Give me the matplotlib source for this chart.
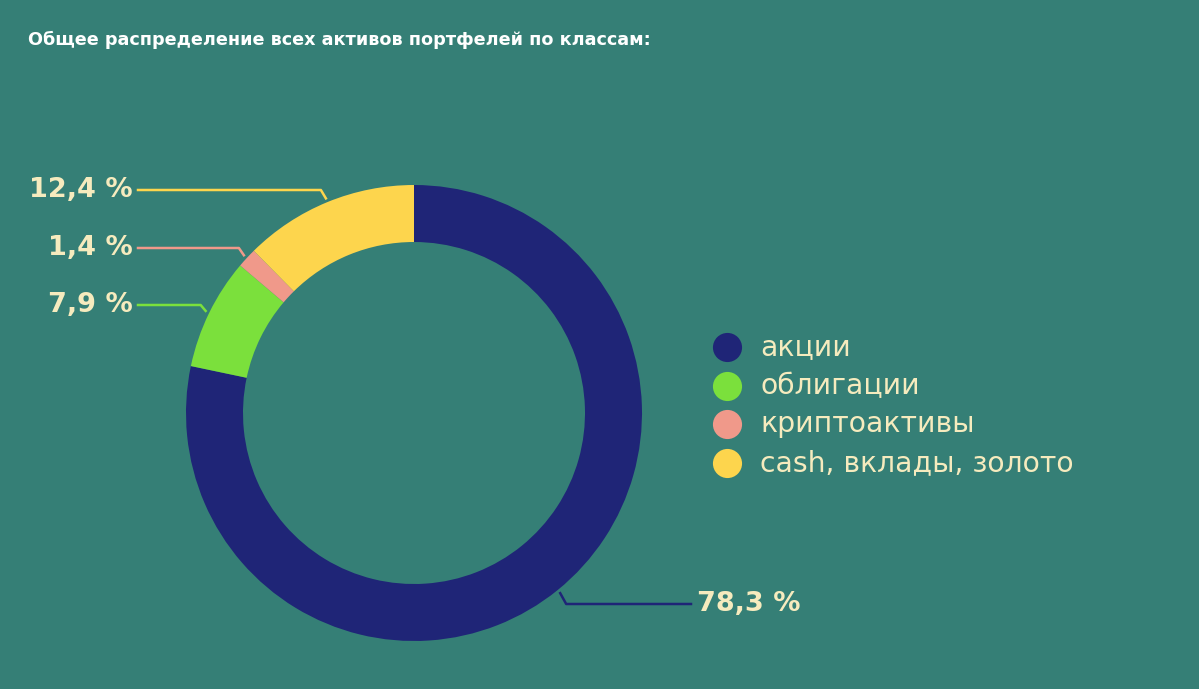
import matplotlib
matplotlib.use("Agg")
import matplotlib.pyplot as plt
import numpy as np

categories = ["акции", "облигации", "криптоактивы", "cash, вклады, золото"]
values = [78.3, 7.9, 1.4, 12.4]
labels = ["78,3 %", "7,9 %", "1,4 %", "12,4 %"]
colors = ["#1F2577", "#7BE03C", "#F0998A", "#FDD54D"]
title = "Общее распределение всех активов портфелей по классам:"

W, H = 1199, 689
fig = plt.figure(figsize=(W/100, H/100), dpi=100)
bg = "#357F76"
fig.patch.set_facecolor(bg)
ax = fig.add_axes([0, 0, 1, 1])
ax.set_facecolor(bg)
ax.set_xlim(0, W); ax.set_ylim(0, H); ax.set_aspect("equal"); ax.axis("off")

cx, cy, R = 414, H - 413, 228
wedges, _ = ax.pie(values, colors=colors, startangle=90, counterclock=False,
                   center=(cx, cy), radius=R, wedgeprops=dict(width=57, linewidth=0))
ax.set_xlim(0, W); ax.set_ylim(0, H)

txtc = "#F6EBBE"
label_pos = [(697, 604), (133, 305), (133, 248), (133, 190)]
for w, lab, c, (tx, ty) in zip(wedges, labels, colors, label_pos):
    ang = np.deg2rad((w.theta1 + w.theta2) / 2)
    px, py = cx + (R + 4) * np.cos(ang), cy + (R + 4) * np.sin(ang)
    ty2 = H - ty
    if tx > cx:
        ax.plot([px, px + 6, tx - 6], [py, ty2, ty2], color=c, lw=1.8)
        ax.text(tx, ty2, lab, color=txtc, fontsize=19.5, fontweight="bold", va="center", ha="left")
    else:
        ax.plot([px, px - 5, tx + 5], [py, ty2, ty2], color=c, lw=1.8)
        ax.text(tx, ty2, lab, color=txtc, fontsize=19.5, fontweight="bold", va="center", ha="right")

for i, (cat, c) in enumerate(zip(categories, colors)):
    y = H - (347 + i * 38.7)
    ax.scatter([727], [y], s=440, color=c, linewidths=0)
    ax.text(760, y, cat, color=txtc, fontsize=20.3, va="center", ha="left")

ax.text(28, H - 40, title, color="white", fontsize=12.7, fontweight="bold", va="center", ha="left")
fig.savefig("out.png", dpi=100, facecolor=bg)
